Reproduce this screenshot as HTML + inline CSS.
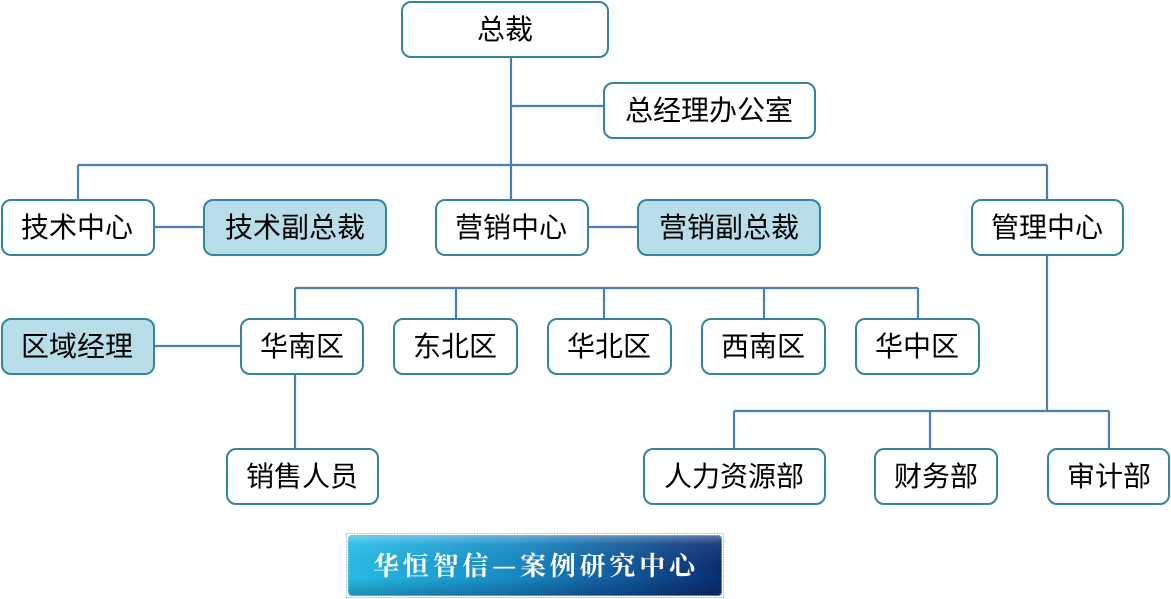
<!DOCTYPE html>
<html><head><meta charset="utf-8"><style>
html,body{margin:0;padding:0;background:#fff;}
svg{display:block;}
.b{fill:#fff;stroke:#31859C;stroke-width:2;}
.f{fill:#B7DDE8;stroke:#31859C;stroke-width:2;}
.l{stroke:#4A7EBB;stroke-width:2.2;fill:none;}
text.t{font-family:"Liberation Sans","Noto Sans CJK SC",sans-serif;font-size:28px;fill:#000;text-anchor:middle;}
</style></head><body>
<svg width="1171" height="599" viewBox="0 0 1171 599" xmlns="http://www.w3.org/2000/svg">
<defs>
<linearGradient id="g" x1="0" y1="0" x2="1" y2="0">
<stop offset="0" stop-color="#27bde6"/>
<stop offset="0.45" stop-color="#1789c4"/>
<stop offset="1" stop-color="#0b2d74"/>
</linearGradient>
<linearGradient id="h" x1="0" y1="0" x2="0" y2="1">
<stop offset="0" stop-color="#ffffff" stop-opacity="0.35"/>
<stop offset="0.15" stop-color="#ffffff" stop-opacity="0.08"/>
<stop offset="0.7" stop-color="#000000" stop-opacity="0"/>
<stop offset="1" stop-color="#000030" stop-opacity="0.25"/>
</linearGradient>
</defs>
<!-- connectors -->
<path class="l" d="M511 57V199M511 106H603M78 165H1047M78 165V199M1047 165V199M154 227H203M588 227H637M295 288H918M295 288V318M456 288V318M604 288V318M764 288V318M918 288V318M154 346H240M295 374V448M1047 255V411M734 411H1109M734 411V448M930 411V448M1109 411V448"/>
<!-- boxes -->
<rect class="b" x="402" y="2" width="206" height="55" rx="9"/>
<text class="t" x="505" y="39">总裁</text>
<rect class="b" x="604" y="83" width="211" height="55" rx="9"/>
<text class="t" x="709" y="120">总经理办公室</text>

<rect class="b" x="2" y="200" width="152" height="55" rx="9"/>
<text class="t" x="77" y="237">技术中心</text>
<rect class="f" x="204" y="200" width="182" height="55" rx="9"/>
<text class="t" x="295" y="237">技术副总裁</text>
<rect class="b" x="436" y="200" width="152" height="55" rx="9"/>
<text class="t" x="511" y="237">营销中心</text>
<rect class="f" x="638" y="200" width="182" height="55" rx="9"/>
<text class="t" x="729" y="237">营销副总裁</text>
<rect class="b" x="972" y="200" width="151" height="55" rx="9"/>
<text class="t" x="1047" y="237">管理中心</text>

<rect class="f" x="2" y="319" width="152" height="55" rx="9"/>
<text class="t" x="77" y="356">区域经理</text>
<rect class="b" x="241" y="319" width="122" height="55" rx="9"/>
<text class="t" x="302" y="356">华南区</text>
<rect class="b" x="394" y="319" width="123" height="55" rx="9"/>
<text class="t" x="455" y="356">东北区</text>
<rect class="b" x="548" y="319" width="123" height="55" rx="9"/>
<text class="t" x="609" y="356">华北区</text>
<rect class="b" x="702" y="319" width="123" height="55" rx="9"/>
<text class="t" x="763" y="356">西南区</text>
<rect class="b" x="856" y="319" width="123" height="55" rx="9"/>
<text class="t" x="917" y="356">华中区</text>

<rect class="b" x="227" y="449" width="151" height="55" rx="9"/>
<text class="t" x="302" y="486">销售人员</text>
<rect class="b" x="644" y="449" width="181" height="55" rx="9"/>
<text class="t" x="734" y="486">人力资源部</text>
<rect class="b" x="875" y="449" width="122" height="55" rx="9"/>
<text class="t" x="936" y="486">财务部</text>
<rect class="b" x="1048" y="449" width="121" height="55" rx="9"/>
<text class="t" x="1109" y="486">审计部</text>

<!-- banner -->
<rect x="346.5" y="533.5" width="377" height="64" fill="none" stroke="#b8b8b8" stroke-width="1" stroke-dasharray="1.5 1"/>
<rect x="348" y="535" width="374" height="61" rx="4" fill="url(#g)"/>
<rect x="348" y="535" width="374" height="61" rx="4" fill="url(#h)"/>
<rect x="348.5" y="535.5" width="373" height="60" rx="4" fill="none" stroke="#4fd0f2" stroke-opacity="0.6" stroke-width="1"/>
<text x="373" y="575" textLength="322" lengthAdjust="spacing" font-family="'Noto Serif CJK SC','Liberation Serif',serif" font-weight="bold" font-size="26" fill="#ffffff">华恒智信—案例研究中心</text>
</svg>
</body></html>
